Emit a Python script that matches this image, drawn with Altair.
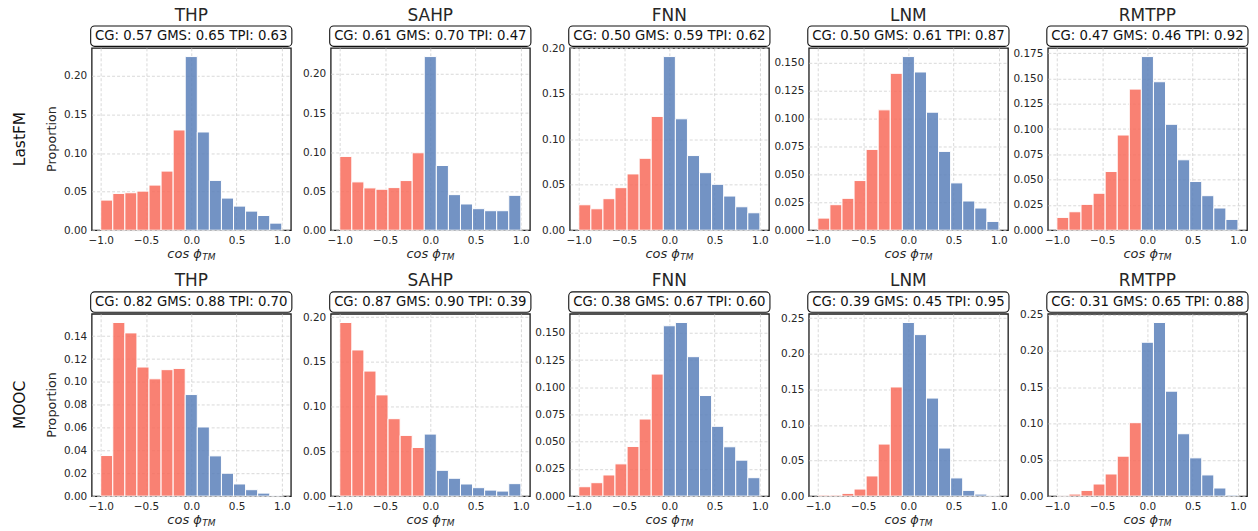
import altair as alt
import pandas as pd

FONT = "DejaVu Sans"

models = ["THP", "SAHP", "FNN", "LNM", "RMTPP"]
datasets = ["LastFM", "MOOC"]

# 15 histogram bins over [-1, 1]
bin_edges = [-1.0, -0.8667, -0.7333, -0.6, -0.4667, -0.3333, -0.2, -0.0667,
             0.0667, 0.2, 0.3333, 0.4667, 0.6, 0.7333, 0.8667, 1.0]

# proportions per bin
lastfm_thp = [0.039, 0.0476, 0.0485, 0.0506, 0.0584, 0.0766, 0.1299, 0.2251,
              0.1273, 0.0645, 0.0416, 0.0312, 0.0247, 0.019, 0.0091]
lastfm_sahp = [0.0944, 0.0618, 0.0541, 0.0524, 0.0545, 0.0635, 0.0991, 0.2223,
               0.0828, 0.0455, 0.0335, 0.0275, 0.0249, 0.0249, 0.0446]
lastfm_fnn = [0.0279, 0.0235, 0.0346, 0.0467, 0.0618, 0.079, 0.125, 0.1908,
              0.1224, 0.082, 0.0632, 0.0504, 0.0375, 0.0257, 0.0191]
lastfm_lnm = [0.0108, 0.0228, 0.0285, 0.0444, 0.0723, 0.1077, 0.1404, 0.1554,
              0.1416, 0.1056, 0.0705, 0.0423, 0.0261, 0.0198, 0.0078]
lastfm_rmtpp = [0.0126, 0.0182, 0.0255, 0.0365, 0.058, 0.0941, 0.1395, 0.1717,
                0.1468, 0.1047, 0.0696, 0.0481, 0.0341, 0.0219, 0.0106]
mooc_thp = [0.0355, 0.152, 0.1429, 0.113, 0.1027, 0.1107, 0.1118, 0.0889,
            0.0605, 0.0352, 0.02, 0.0106, 0.0056, 0.0026, 0.0006]
mooc_sahp = [0.194, 0.1633, 0.1397, 0.1131, 0.0865, 0.0678, 0.0543, 0.0693,
             0.0288, 0.0199, 0.0135, 0.0094, 0.0067, 0.0056, 0.0139]
mooc_fnn = [0.0086, 0.0123, 0.0194, 0.0296, 0.0456, 0.0708, 0.1121, 0.1565,
            0.1595, 0.1281, 0.0924, 0.0641, 0.0453, 0.033, 0.0169]
mooc_lnm = [0.0014, 0.0014, 0.0038, 0.0099, 0.0283, 0.0731, 0.1533, 0.2439,
            0.2269, 0.1377, 0.0675, 0.0255, 0.008, 0.0028, 0.0005]
mooc_rmtpp = [0.0003, 0.0028, 0.0078, 0.0166, 0.0304, 0.0549, 0.101, 0.2117,
              0.2389, 0.1444, 0.0858, 0.0526, 0.0291, 0.0111, 0.0014]

cg_lastfm = [0.57, 0.61, 0.50, 0.50, 0.47]
gms_lastfm = [0.65, 0.70, 0.59, 0.61, 0.46]
tpi_lastfm = [0.63, 0.47, 0.62, 0.87, 0.92]
cg_mooc = [0.82, 0.87, 0.38, 0.39, 0.31]
gms_mooc = [0.88, 0.90, 0.67, 0.45, 0.65]
tpi_mooc = [0.70, 0.39, 0.60, 0.95, 0.88]

x_ticks = [-1.0, -0.5, 0.0, 0.5, 1.0]
yticks_lastfm = [
    [0, 0.05, 0.10, 0.15, 0.20],
    [0, 0.05, 0.10, 0.15, 0.20],
    [0, 0.05, 0.10, 0.15, 0.20],
    [0, 0.025, 0.05, 0.075, 0.10, 0.125, 0.15],
    [0, 0.025, 0.05, 0.075, 0.10, 0.125, 0.15, 0.175],
]
yfmt_lastfm = [".2f", ".2f", ".2f", ".3f", ".3f"]
yticks_mooc = [
    [0, 0.02, 0.04, 0.06, 0.08, 0.10, 0.12, 0.14],
    [0, 0.05, 0.10, 0.15, 0.20],
    [0, 0.025, 0.05, 0.075, 0.10, 0.125, 0.15],
    [0, 0.05, 0.10, 0.15, 0.20, 0.25],
    [0, 0.05, 0.10, 0.15, 0.20, 0.25],
]
yfmt_mooc = [".2f", ".2f", ".3f", ".2f", ".2f"]

RED = "#F86B5A"
BLUE = "#5A80BA"
W, H = 200, 183
TXT = "#262626"

one = pd.DataFrame({"k": [0]})


def panel(values, model, dataset, cg, gms, tpi, yticks, yfmt, first_col):
    df = pd.DataFrame({
        "x0": bin_edges[:-1],
        "x1": bin_edges[1:],
        "p": values,
        "side": ["neg"] * 7 + ["pos"] * 8,
    })
    ymax = 1.05 * max(values)
    bars = alt.Chart(df).mark_bar(
        stroke="white", strokeWidth=1, fillOpacity=0.85
    ).encode(
        x=alt.X("x0:Q", scale=alt.Scale(domain=[-1.1, 1.1], nice=False, zero=False),
                axis=alt.Axis(values=x_ticks, format=".1f", title=None)),
        x2="x1:Q",
        y=alt.Y("p:Q", scale=alt.Scale(domain=[0, ymax], nice=False),
                axis=alt.Axis(values=yticks, format=yfmt, title=None)),
        y2=alt.datum(0),
        color=alt.Color("side:N", scale=alt.Scale(domain=["neg", "pos"], range=[RED, BLUE]),
                        legend=None),
    )
    box = alt.Chart(one).mark_rect(
        fill="white", stroke="#111", strokeWidth=1.1, cornerRadius=4
    ).encode(x=alt.value(-1), x2=alt.value(W + 1), y=alt.value(-22), y2=alt.value(-1.5))
    ann = alt.Chart(one).mark_text(
        font=FONT, fontSize=13.3, color="#111", baseline="middle", align="center"
    ).encode(x=alt.value(W / 2), y=alt.value(-11.5),
             text=alt.value(f"CG: {cg:.2f} GMS: {gms:.2f} TPI: {tpi:.2f}"))
    ttl = alt.Chart(one).mark_text(
        font=FONT, fontSize=17, color=TXT, baseline="middle", align="center"
    ).encode(x=alt.value(W / 2), y=alt.value(-32.5), text=alt.value(model))
    xl1 = alt.Chart(one).mark_text(
        font=FONT, fontSize=13, fontStyle="italic", color=TXT, baseline="alphabetic", align="left"
    ).encode(x=alt.value(76), y=alt.value(H + 28), text=alt.value("cos ϕ"))
    xl2 = alt.Chart(one).mark_text(
        font=FONT, fontSize=9, fontStyle="italic", color=TXT, baseline="alphabetic", align="left"
    ).encode(x=alt.value(111), y=alt.value(H + 30), text=alt.value("TM"))
    layers = [bars, box, ann, ttl, xl1, xl2]
    if first_col:
        ylab = alt.Chart(one).mark_text(
            font=FONT, fontSize=12.8, color=TXT, baseline="middle", align="center", angle=270
        ).encode(x=alt.value(-39.5), y=alt.value(H / 2), text=alt.value("Proportion"))
        rlab = alt.Chart(one).mark_text(
            font=FONT, fontSize=15.5, color="#111", baseline="middle", align="center", angle=270
        ).encode(x=alt.value(-71.5), y=alt.value(H / 2), text=alt.value(dataset))
        layers += [ylab, rlab]
    return alt.layer(*layers).properties(width=W, height=H)


series = {
    "LastFM": [lastfm_thp, lastfm_sahp, lastfm_fnn, lastfm_lnm, lastfm_rmtpp],
    "MOOC": [mooc_thp, mooc_sahp, mooc_fnn, mooc_lnm, mooc_rmtpp],
}
metrics = {
    "LastFM": (cg_lastfm, gms_lastfm, tpi_lastfm, yticks_lastfm, yfmt_lastfm),
    "MOOC": (cg_mooc, gms_mooc, tpi_mooc, yticks_mooc, yfmt_mooc),
}

panels = []
for ds in datasets:
    cg, gms, tpi, yt, yf = metrics[ds]
    for i in range(5):
        panels.append(panel(series[ds][i], models[i], ds, cg[i], gms[i], tpi[i],
                            yt[i], yf[i], i == 0))

chart = alt.concat(
    *panels, columns=5, spacing={"row": 84, "column": 40}, bounds="flush"
).properties(
    padding={"left": 4, "top": -4, "right": 0, "bottom": 0}
).configure_view(
    stroke="#1a1a1a", strokeWidth=1.3
).configure_axis(
    domain=False,
    ticks=False,
    labelPadding=5,
    labelFont=FONT,
    labelFontSize=10.5,
    labelColor=TXT,
    grid=True,
    gridColor="#cfcfcf",
    gridDash=[3, 2],
    gridWidth=0.8,
)

chart.save("out.html", embed_options={"renderer": "svg", "actions": False})
